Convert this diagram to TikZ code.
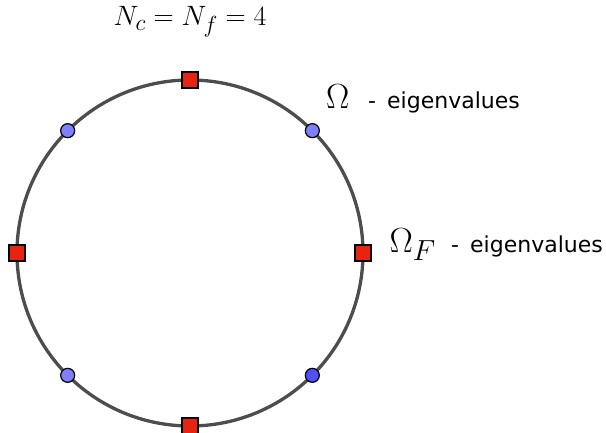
\documentclass[tikz,border=0pt]{standalone}
\usepackage{graphicx}
\usepackage{fontspec}
\newfontfamily\labelfont{DejaVu Sans}
\definecolor{ringgray}{RGB}{77,77,77}
\definecolor{sqred}{RGB}{232,35,15}
\definecolor{dotblue}{RGB}{128,128,255}
\definecolor{dotblueB}{RGB}{80,80,245}
\tikzset{
  ring/.style={circle, draw=ringgray, line width=3.3pt, minimum size=346pt, inner sep=0pt, outer sep=0pt},
  fsq/.style={rectangle, draw=black, fill=sqred, line width=1.5pt, minimum size=16pt, inner sep=0pt},
  cdot/.style={circle, draw=black, fill=dotblue, line width=1.2pt, minimum size=14pt, inner sep=0pt},
  mathtext/.style={inner sep=0pt, font=\fontsize{24.88}{30}\selectfont},
  eigtext/.style={inner sep=0pt, font=\labelfont\fontsize{22}{26}\selectfont},
}
\begin{document}
\begin{tikzpicture}[x=1pt,y=-1pt]
\useasboundingbox[fill=white] (0,0) rectangle (606,433);
\node[ring] (ring) at (190,253) {};
% squares (Omega_F eigenvalues)
\node[fsq] (s1) at (ring.90) {};
\node[fsq] (s2) at (ring.0) {};
\node[fsq] (s3) at (ring.180) {};
\node[fsq] (s4) at (ring.270) {};
% dots (Omega eigenvalues)
\node[cdot] (d1) at (ring.45) {};
\node[cdot] (d2) at (ring.135) {};
\node[cdot] (d3) at (ring.225) {};
\node[cdot, fill=dotblueB] (d4) at (ring.315) {};
% title
\node[mathtext, anchor=base] (title) at (190,26) {\scalebox{1.125}{$N_c = N_f = 4$}};
% labels
\node[mathtext, anchor=base west] (om1) at (326,108.5) {\scalebox{1.4}{$\Omega$}};
\node[eigtext, anchor=base east] (eig1) at (520,108.5) {-\hspace{0.5em}eigenvalues};
\node[mathtext, anchor=base west] (om2) at (389.5,253) {\scalebox{1.4}{$\Omega_F$}};
\node[eigtext, anchor=base east] (eig2) at (603,253) {-\hspace{0.5em}eigenvalues};
\end{tikzpicture}
\end{document}
